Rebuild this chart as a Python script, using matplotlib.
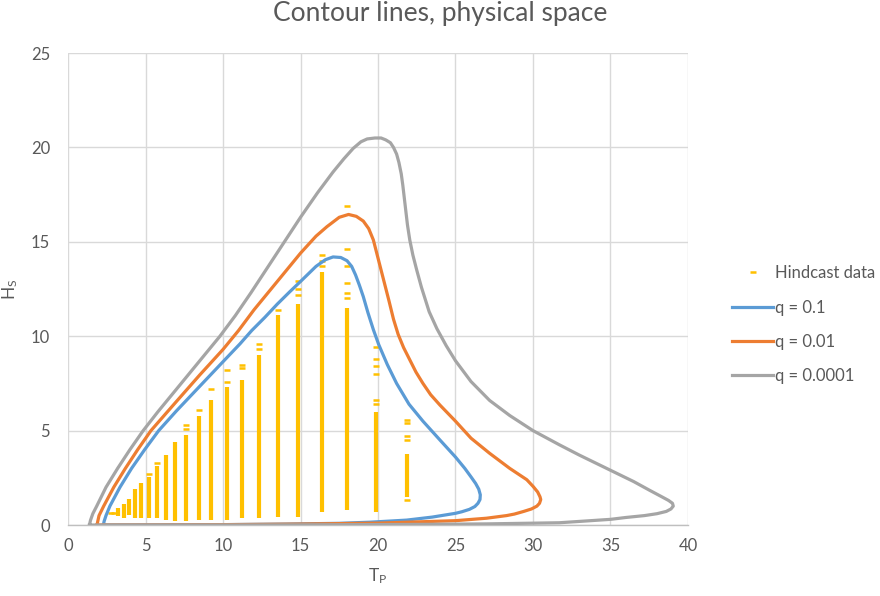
import matplotlib
matplotlib.use("Agg")
import matplotlib.pyplot as plt
from matplotlib.lines import Line2D

plt.rcParams['font.family'] = ['Lato', 'DejaVu Sans']

# hindcast data, dense columns: Tp, lowest Hs, highest Hs
col_tp = [3.25, 3.64, 3.94, 4.35, 4.73, 5.23, 5.75, 6.33, 6.93, 7.63, 8.43, 9.23,
          10.24, 11.25, 12.35, 13.53, 14.86, 16.4, 18.0, 19.85, 21.85]
col_lo = [0.47, 0.35, 0.53, 0.35, 0.35, 0.35, 0.35, 0.26, 0.23, 0.23, 0.26, 0.26,
          0.26, 0.35, 0.35, 0.44, 0.44, 0.7, 0.8, 0.7, 1.5]
col_hi = [0.88, 1.11, 1.36, 1.89, 2.2, 2.55, 3.1, 3.7, 4.4, 4.75, 5.75, 6.6,
          7.33, 7.7, 9.0, 11.1, 11.7, 13.4, 11.5, 6.0, 3.75]

# hindcast data, isolated points
pts_tp = [2.8, 2.95, 5.23, 5.75, 7.63, 7.63, 8.43, 9.23, 10.24, 10.24, 11.25, 11.25,
          12.35, 12.35, 13.53, 14.86, 14.86, 14.86, 16.4, 16.4, 16.4,
          18.0, 18.0, 18.0, 18.0, 18.0, 18.0,
          19.85, 19.85, 19.85, 19.85, 19.85, 19.85,
          21.85, 21.85, 21.85, 21.85, 21.85]
pts_hs = [0.62, 0.62, 2.72, 3.3, 5.3, 5.1, 6.1, 7.2, 8.2, 7.6, 8.5, 8.3,
          9.6, 9.3, 11.4, 12.9, 12.5, 12.2, 14.3, 14.0, 13.7,
          16.9, 14.6, 13.7, 12.8, 12.3, 12.0,
          9.45, 8.8, 8.4, 8.0, 6.6, 6.4,
          5.56, 5.4, 4.7, 4.5, 1.3]

# contour q = 0.1
q1_tp = [2.28, 2.33, 2.45, 2.7, 3.35, 4.1, 4.95, 5.85, 7.0, 8.5, 10.0, 11.1, 11.85,
         12.7, 13.5, 14.3, 15.0, 16.0, 16.6, 17.1, 17.6, 18.0, 18.3, 18.55, 18.8,
         19.05, 19.35, 19.7, 20.05, 20.6, 21.2, 22.0, 22.9, 24.0, 25.0, 25.6, 26.0,
         26.3, 26.5, 26.6, 26.58, 26.45, 26.25, 25.9, 25.4, 25.0, 23.5, 21.85, 19.5,
         17.5, 14.0, 10.0, 6.0, 2.6, 2.28]
q1_hs = [0.0, 0.2, 0.5, 1.0, 2.0, 3.0, 4.0, 5.0, 6.05, 7.35, 8.65, 9.6, 10.3,
         11.0, 11.7, 12.35, 12.9, 13.7, 14.05, 14.2, 14.17, 14.0, 13.7, 13.25, 12.7,
         12.1, 11.25, 10.35, 9.55, 8.5, 7.5, 6.4, 5.5, 4.5, 3.6, 3.0, 2.55,
         2.2, 1.9, 1.6, 1.35, 1.15, 0.98, 0.83, 0.7, 0.62, 0.42, 0.26, 0.15,
         0.09, 0.05, 0.02, 0.005, 0.001, 0.0]

# contour q = 0.01
q2_tp = [1.87, 1.92, 2.0, 2.3, 2.95, 3.7, 4.5, 5.35, 7.0, 8.5, 10.0, 11.0, 12.0, 12.8,
         14.0, 15.0, 16.0, 16.7, 17.5, 18.1, 18.6, 19.05, 19.4, 19.7, 19.95, 20.2,
         20.45, 20.7, 21.0, 21.3, 21.65, 22.05, 22.45, 22.9, 23.4, 24.0, 25.0, 26.0,
         27.2, 28.5, 29.6, 30.0, 30.3, 30.45, 30.5, 30.42, 30.25, 29.9, 29.4, 28.8,
         28.3, 27.0, 25.0, 20.0, 15.0, 10.0, 5.0, 2.2, 1.87]
q2_hs = [0.0, 0.2, 0.5, 1.0, 2.0, 3.0, 4.0, 5.0, 6.55, 7.95, 9.3, 10.3, 11.4, 12.2,
         13.4, 14.4, 15.3, 15.8, 16.3, 16.45, 16.35, 16.1, 15.7, 15.1, 14.3, 13.5,
         12.7, 11.9, 10.9, 10.1, 9.4, 8.75, 8.1, 7.5, 6.9, 6.35, 5.5, 4.6,
         3.8, 3.0, 2.4, 2.05, 1.75, 1.5, 1.35, 1.15, 1.0, 0.85, 0.72, 0.58,
         0.5, 0.36, 0.23, 0.1, 0.05, 0.02, 0.005, 0.001, 0.0]

# contour q = 0.0001
q3_tp = [1.38, 1.45, 1.6, 1.85, 2.45, 3.2, 4.0, 4.85, 5.8, 6.8, 7.8, 8.8, 9.8, 10.8,
         11.8, 12.8, 13.8, 15.0, 16.1, 17.1, 17.8, 18.4, 18.9, 19.3, 19.8, 20.2, 20.5,
         20.8, 21.0, 21.2, 21.35, 21.5, 21.6, 21.7, 21.8, 21.9, 22.05, 22.25, 22.5,
         22.8, 23.3, 23.8, 24.4, 25.0, 26.0, 27.2, 28.5, 30.0, 31.7, 33.0, 35.0, 36.5,
         37.5, 38.3, 38.75, 39.0, 39.05, 38.9, 38.6, 38.0, 37.2, 36.0, 35.0, 31.7, 27.0,
         22.0, 15.0, 8.0, 1.7, 1.38]
q3_hs = [0.0, 0.25, 0.6, 1.0, 2.0, 3.0, 4.0, 5.0, 6.0, 7.0, 8.0, 9.0, 10.0, 11.1,
         12.3, 13.55, 14.8, 16.3, 17.6, 18.7, 19.4, 19.95, 20.3, 20.45, 20.5, 20.5, 20.4,
         20.25, 20.0, 19.65, 19.2, 18.6, 18.0, 17.3, 16.6, 15.9, 15.1, 14.3, 13.5,
         12.6, 11.3, 10.4, 9.5, 8.7, 7.6, 6.6, 5.8, 5.0, 4.25, 3.7, 2.9, 2.3,
         1.85, 1.5, 1.3, 1.15, 1.0, 0.85, 0.72, 0.6, 0.5, 0.4, 0.3, 0.12, 0.06,
         0.03, 0.01, 0.003, 0.001, 0.0]

gold = '#FFC000'
text_col = '#595959'

fig = plt.figure(figsize=(8.8, 5.96), dpi=100)
ax = fig.add_axes([0.0773, 0.1191, 0.7045, 0.7919])

ax.vlines(col_tp, col_lo, col_hi, colors=gold, lw=3.0, zorder=2)
ax.plot(pts_tp, pts_hs, ls='none', marker='_', ms=3.8, mew=1.8, color=gold, zorder=2)

ax.plot(q1_tp, q1_hs, color='#5B9BD5', lw=2.3, zorder=3, solid_joinstyle='round')
ax.plot(q2_tp, q2_hs, color='#ED7D31', lw=2.3, zorder=3, solid_joinstyle='round')
ax.plot(q3_tp, q3_hs, color='#A5A5A5', lw=2.3, zorder=3, solid_joinstyle='round')

ax.set_xlim(0, 40)
ax.set_ylim(0, 25)
ax.set_xticks(range(0, 41, 5))
ax.set_yticks(range(0, 26, 5))
ax.grid(True, color='#D9D9D9', lw=1)
ax.set_axisbelow(True)
for s in ['top', 'right', 'left']:
    ax.spines[s].set_visible(False)
ax.spines['bottom'].set_color('#BFBFBF')
ax.spines['bottom'].set_linewidth(1)
ax.tick_params(length=0, labelsize=12, labelcolor=text_col)
ax.tick_params(axis='x', pad=9)
ax.tick_params(axis='y', pad=13)

ax.set_xlabel(r'$\mathregular{T_P}$', fontsize=12.5, color=text_col, labelpad=9)
ax.set_ylabel(r'$\mathregular{H_S}$', fontsize=12.5, color=text_col, labelpad=8)
fig.text(0.5, 0.978, 'Contour lines, physical space', ha='center', va='center',
         fontsize=19, color=text_col)

handles = [
    Line2D([], [], ls='none', marker='_', ms=3.8, mew=1.8, color=gold),
    Line2D([], [], color='#5B9BD5', lw=2.3),
    Line2D([], [], color='#ED7D31', lw=2.3),
    Line2D([], [], color='#A5A5A5', lw=2.3),
]
labels = ['Hindcast data', 'q = 0.1', 'q = 0.01', 'q = 0.0001']
leg = fig.legend(handles, labels, loc='center left', bbox_to_anchor=(0.815, 0.455),
                 frameon=False, fontsize=12, handlelength=2.45, handletextpad=0.1,
                 labelspacing=1.1)
for t in leg.get_texts():
    t.set_color(text_col)

fig.savefig('out.png', dpi=100)
